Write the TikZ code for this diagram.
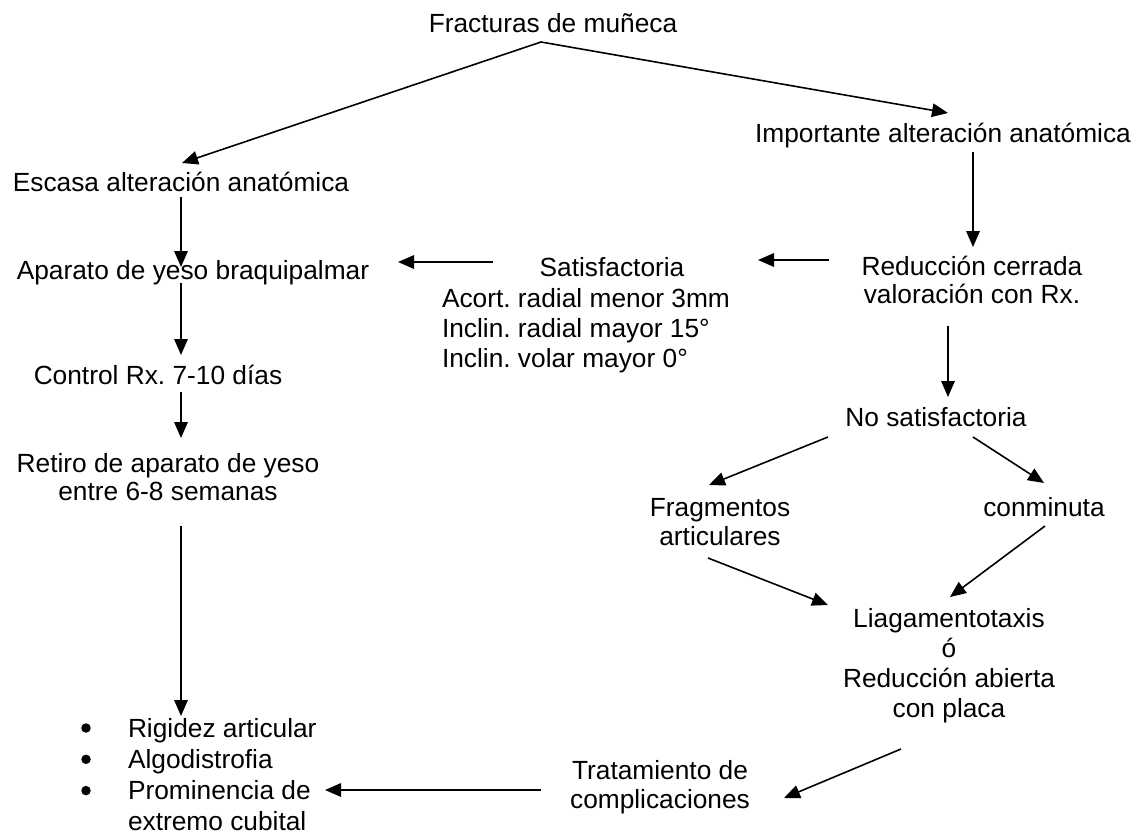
\documentclass[tikz,border=0pt]{standalone}
\usepackage{fontspec}
\setmainfont{Liberation Sans}
\usetikzlibrary{arrows.meta,calc}
\frenchspacing
\begin{document}
\begin{tikzpicture}[x=1pt,y=-1pt,
  txt/.style={inner sep=0pt, outer sep=0pt, font=\fontsize{26.3}{30.5}\selectfont},
  arr/.style={line width=1.6pt, -{Triangle[length=16pt,width=13.5pt]}},
  bul/.style={circle, fill=black, inner sep=0pt, minimum size=9.5pt},
]
\fill[white] (0,0) rectangle (1146,838);
\useasboundingbox (0,0) rectangle (1146,838);

% single-line nodes (anchored at baseline)
\node[txt, anchor=base] (frac) at (553,32) {Fracturas de muñeca};
\node[txt, anchor=base] (imp) at (943,142) {Importante alteración anatómica};
\node[txt, anchor=base] (esc) at (181,191) {Escasa alteración anatómica};
\node[txt, anchor=base] (apa) at (193,279) {Aparato de yeso braquipalmar};
\node[txt, anchor=base] (sat) at (612,276) {Satisfactoria};
\node[txt, anchor=base] (ctrl) at (158,384) {Control Rx. 7-10 días};
\node[txt, anchor=base] (nosat) at (936,426) {No satisfactoria};
\node[txt, anchor=base] (conm) at (1044,516) {conminuta};

% multi-line nodes (anchored at top of first line = baseline - 20)
\node[txt, anchor=north west, align=left, font=\fontsize{26.3}{30}\selectfont] (satd) at (442,287)
  {\rule{0pt}{20pt}Acort. radial menor 3mm\\Inclin. radial mayor 15°\\Inclin. volar mayor 0°};
\node[txt, anchor=north, align=center, font=\fontsize{26.3}{28}\selectfont] (red) at (972,255)
  {\rule{0pt}{20pt}Reducción cerrada\\valoración con Rx.};
\node[txt, anchor=north, align=center, font=\fontsize{26.3}{28}\selectfont] (ret) at (168,452)
  {\rule{0pt}{20pt}Retiro de aparato de yeso\\entre 6-8 semanas};
\node[txt, anchor=north, align=center, font=\fontsize{26.3}{29.5}\selectfont] (frag) at (720,496)
  {\rule{0pt}{20pt}Fragmentos\\articulares};
\node[txt, anchor=north, align=center, font=\fontsize{26.3}{30.3}\selectfont] (liag) at (949,607)
  {\rule{0pt}{20pt}Liagamentotaxis\\ó\\Reducción abierta\\con placa};
\node[txt, anchor=north, align=center, font=\fontsize{26.3}{29}\selectfont] (trat) at (660,759)
  {\rule{0pt}{20pt}Tratamiento de\\complicaciones};
\node[txt, anchor=north west, align=left, font=\fontsize{26.3}{31.3}\selectfont] (list) at (128,717)
  {\rule{0pt}{20pt}Rigidez articular\\Algodistrofia\\Prominencia de\\extremo cubital};
\node[bul] (b1) at (86,728) {};
\node[bul] (b2) at (86,759.3) {};
\node[bul] (b3) at (86,790.6) {};

% connectors
\draw[arr] ($(frac.base)+(-12,10)$) -- ($(esc.base)+(1,-28)$);
\draw[arr] ($(frac.base)+(-12,10)$) -- ($(imp.base)+(5,-29)$);
\draw[arr] ($(imp.base)+(30,10)$) -- ($(red.north)+(1,-8)$);
\draw[arr] ($(red.north)+(-143,5)$) -- ($(sat.base)+(146,-16)$);
\draw[arr] ($(sat.base)+(-119,-14)$) -- ($(apa.base)+(205,-17)$);
\draw[arr] ($(esc.base)+(0,6)$) -- ($(apa.base)+(-12,-12)$);
\draw[arr] ($(apa.base)+(-12,4)$) -- ($(ctrl.base)+(23,-29)$);
\draw[arr] ($(ctrl.base)+(23,8)$) -- ($(ret.north)+(13,-14)$);
\draw[arr] ($(ret.north)+(13,74)$) -- ($(list.north west)+(53,-1)$);
\draw[arr] ($(red.north)+(-24,71)$) -- ($(nosat.base)+(12,-29)$);
\draw[arr] ($(nosat.base)+(-108,11)$) -- ($(frag.north)+(-11,-11)$);
\draw[arr] ($(nosat.base)+(37,11)$) -- ($(conm.base)+(0,-33)$);
\draw[arr] ($(frag.north)+(-12,62)$) -- ($(liag.north)+(-121,-2)$);
\draw[arr] ($(conm.base)+(1,10)$) -- ($(liag.north)+(1,-10)$);
\draw[arr] ($(liag.north)+(-48,142)$) -- ($(trat.north)+(124,39)$);
\draw[arr] ($(trat.north)+(-119,31)$) -- ($(list.north west)+(197,73)$);
\end{tikzpicture}
\end{document}
